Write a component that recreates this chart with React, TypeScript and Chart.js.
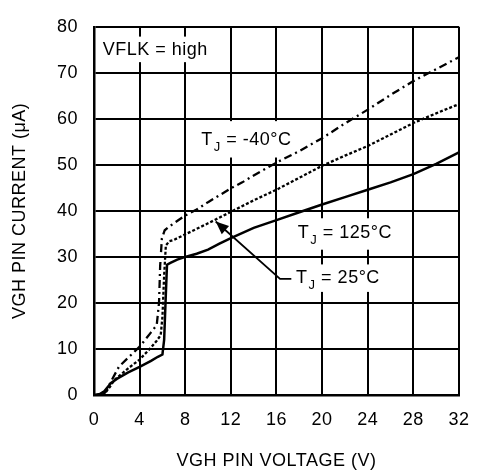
import React, { useEffect, useRef } from 'react';
import { Chart, registerables } from 'chart.js';

Chart.register(...registerables);

// ---- Data (VGH pin voltage in V, VGH pin current in µA) ----
const t125Voltage = [0, 0.5, 0.9, 1.5, 2, 3, 4, 5, 5.6, 6.0, 6.15, 6.3, 6.4, 6.7, 7.3, 8, 9, 10, 11, 12, 14, 16, 18, 20, 22, 24, 26, 28, 30, 32];
const t125Current = [0, 0.2, 0.8, 2.6, 3.5, 4.9, 6.1, 7.4, 8.3, 8.8, 12, 22, 28.3, 28.7, 29.4, 30, 30.7, 31.6, 32.9, 34.1, 36.3, 38, 39.7, 41.4, 43, 44.6, 46.2, 48, 50.2, 52.7];

const t25Voltage = [0.7, 1, 1.4, 1.8, 3, 4, 5, 5.5, 5.85, 6.0, 6.15, 6.3, 6.6, 7, 8, 10, 12, 14, 16, 18, 20, 22, 24, 26, 28, 30, 32];
const t25Current = [0, 0.5, 1.8, 3.3, 5.8, 7.7, 10.3, 11.8, 13, 17, 26, 32.5, 33.4, 33.7, 34.9, 37.3, 39.8, 42.3, 44.6, 47.2, 49.8, 52, 54.1, 56.6, 59.1, 61.2, 63.2];

const tm40Voltage = [0.8, 1.1, 1.5, 2.2, 3, 4, 5, 5.5, 5.7, 5.8, 5.95, 6.2, 6.6, 7, 8, 9, 10, 11, 12, 13, 14, 16, 18, 20, 22, 24, 26, 28, 30, 32];
const tm40Current = [0, 1, 3, 6.2, 8.1, 10.5, 13.6, 15.2, 20, 28, 34, 35.8, 36.6, 37.3, 39, 40.3, 41.9, 43.4, 44.9, 46.2, 47.7, 50.5, 53, 55.8, 59, 62, 65.2, 68.2, 70.8, 73.4];

const xMin = 0, xMax = 32, xStep = 4;
const yMin = 0, yMax = 80, yStep = 10;

const xTitle = 'VGH PIN VOLTAGE (V)';
const yTitle = 'VGH PIN CURRENT (\u03BCA)';

// Annotation labels (anchor in data units)
const labelVflk = { text: 'VFLK = high', x: 0.76, y: 73.96 };
const labelM40 = { rest: ' = -40\u00B0C', x: 9.4, y: 54.3 };
const label125 = { rest: ' = 125\u00B0C', x: 17.86, y: 34.1 };
const label25 = { rest: ' = 25\u00B0C', x: 17.72, y: 24.3 };
// white label backgrounds [x0, x1, y0, y1] in data units
const labelBoxes = [
  [0.2, 10.33, 77.87, 72.32],
  [8.63, 17.44, 59.5, 51.6],
  [17.44, 26.58, 38.4, 31.57],
  [17.35, 25.48, 28.37, 22.4],
];
// arrow for T_J = 25°C: tail end, bend, tip
const arrow25 = { bendX: 17.3, tailX: 16.31, tailY: 25.24, tipX: 10.67, tipY: 37.7 };

const FONT = '"Liberation Sans", Arial, Helvetica, sans-serif';

const toPoints = (xs: number[], ys: number[]) => xs.map((v, i) => ({ x: v, y: ys[i] }));

const annotPlugin = {
  id: 'annot',
  beforeDraw(chart: any) {
    try { (chart.ctx as any).letterSpacing = '0.5px'; } catch (e) { /* ignore */ }
  },
  beforeDatasetsDraw(chart: any) {
    const { ctx, scales } = chart;
    const x = scales.x, y = scales.y;
    ctx.save();
    ctx.fillStyle = '#fff';
    for (const b of labelBoxes) {
      const x0 = x.getPixelForValue(b[0]);
      const x1 = x.getPixelForValue(b[1]);
      const y0 = y.getPixelForValue(b[2]);
      const y1 = y.getPixelForValue(b[3]);
      ctx.fillRect(x0, y0, x1 - x0, y1 - y0);
    }
    ctx.restore();
  },
  afterDatasetsDraw(chart: any) {
    const { ctx, scales } = chart;
    const x = scales.x, y = scales.y;
    ctx.save();
    try { (ctx as any).letterSpacing = '0.5px'; } catch (e) { /* ignore */ }
    ctx.fillStyle = '#000';
    ctx.textAlign = 'left';
    ctx.textBaseline = 'alphabetic';
    const main = `18px ${FONT}`;
    const sub = `13px ${FONT}`;
    ctx.font = main;
    ctx.fillText(labelVflk.text, x.getPixelForValue(labelVflk.x), y.getPixelForValue(labelVflk.y));

    const drawTJ = (lab: { rest: string; x: number; y: number }) => {
      const px = x.getPixelForValue(lab.x);
      const py = y.getPixelForValue(lab.y);
      ctx.font = main;
      ctx.fillText('T', px, py);
      const w1 = ctx.measureText('T').width;
      ctx.font = sub;
      ctx.fillText('J', px + w1 + 1, py + 6);
      const w2 = ctx.measureText('J').width;
      ctx.font = main;
      ctx.fillText(lab.rest, px + w1 + w2 + 1, py);
    };
    drawTJ(labelM40);
    drawTJ(label125);
    drawTJ(label25);

    // arrow
    const bx = x.getPixelForValue(arrow25.bendX);
    const tx = x.getPixelForValue(arrow25.tailX);
    const ty = y.getPixelForValue(arrow25.tailY);
    const hx = x.getPixelForValue(arrow25.tipX);
    const hy = y.getPixelForValue(arrow25.tipY);
    ctx.strokeStyle = '#000';
    ctx.lineWidth = 1.8;
    ctx.beginPath();
    ctx.moveTo(bx, ty);
    ctx.lineTo(tx, ty);
    ctx.lineTo(hx, hy);
    ctx.stroke();
    const ang = Math.atan2(hy - ty, hx - tx);
    const len = 13, half = 5.5;
    const baseX = hx - len * Math.cos(ang);
    const baseY = hy - len * Math.sin(ang);
    ctx.beginPath();
    ctx.moveTo(hx, hy);
    ctx.lineTo(baseX + half * Math.sin(ang), baseY - half * Math.cos(ang));
    ctx.lineTo(baseX - half * Math.sin(ang), baseY + half * Math.cos(ang));
    ctx.closePath();
    ctx.fill();
    ctx.restore();
  },
};

export default function App() {
  const canvasRef = useRef<HTMLCanvasElement | null>(null);

  useEffect(() => {
    if (!canvasRef.current) return;
    const chart = new Chart(canvasRef.current, {
      type: 'line',
      data: {
        datasets: [
          {
            label: 'TJ = 125°C',
            data: toPoints(t125Voltage, t125Current),
            borderColor: '#000',
            borderWidth: 2.5,
            pointRadius: 0,
            tension: 0,
            fill: false,
          },
          {
            label: 'TJ = 25°C',
            data: toPoints(t25Voltage, t25Current),
            borderColor: '#000',
            borderWidth: 2.3,
            borderDash: [3, 2],
            pointRadius: 0,
            tension: 0,
            fill: false,
          },
          {
            label: 'TJ = -40°C',
            data: toPoints(tm40Voltage, tm40Current),
            borderColor: '#000',
            borderWidth: 2.3,
            borderDash: [8, 4, 2, 4],
            pointRadius: 0,
            tension: 0,
            fill: false,
          },
        ],
      },
      options: {
        responsive: false,
        animation: false,
        devicePixelRatio: 1,
        layout: { padding: { top: 20, right: 11, left: 0, bottom: 0 } },
        plugins: {
          legend: { display: false },
          tooltip: { enabled: false },
        },
        scales: {
          x: {
            type: 'linear',
            min: xMin,
            max: xMax,
            ticks: {
              stepSize: xStep,
              color: '#000',
              padding: 14,
              maxRotation: 0,
              font: { size: 18, family: FONT },
            },
            grid: { color: '#000', lineWidth: 2, drawTicks: false },
            border: { display: true, color: '#000', width: 2.5 },
            title: {
              display: true,
              text: xTitle,
              color: '#000',
              font: { size: 18, family: FONT },
              padding: { top: 0, bottom: 0 },
            },
            afterFit: (scale: any) => { scale.height = 77; },
          },
          y: {
            type: 'linear',
            min: yMin,
            max: yMax,
            ticks: {
              stepSize: yStep,
              color: '#000',
              padding: 16,
              font: { size: 18, family: FONT },
            },
            grid: { color: '#000', lineWidth: 2, drawTicks: false },
            border: { display: true, color: '#000', width: 2.5 },
            title: {
              display: true,
              text: yTitle,
              color: '#000',
              font: { size: 18, family: FONT },
              padding: { top: 9, bottom: 0 },
            },
            afterFit: (scale: any) => { scale.width = 94; },
          },
        },
      },
      plugins: [annotPlugin],
    });
    return () => chart.destroy();
  }, []);

  return (
    <div style={{ position: 'absolute', left: 0, top: 0, width: 483, height: 472, background: '#fff' }}>
      <canvas ref={canvasRef} width={483} height={472} style={{ display: 'block' }} />
    </div>
  );
}
